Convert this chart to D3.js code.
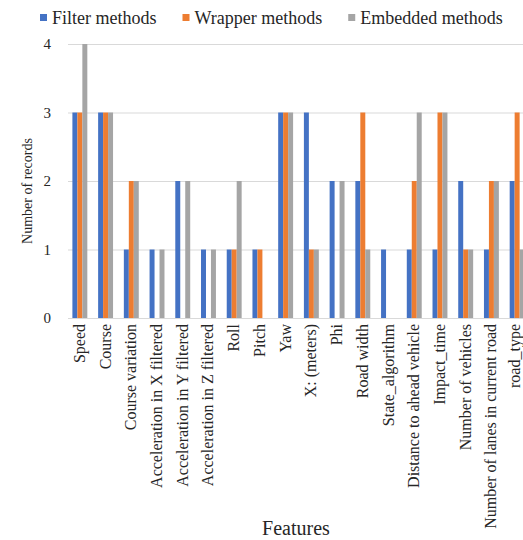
<!DOCTYPE html>
<html>
<head>
<meta charset="utf-8">
<script src="https://cdn.jsdelivr.net/npm/d3@7"></script>
<style>
  html, body { margin: 0; padding: 0; background: #fff; }
  svg { display: block; }
</style>
</head>
<body>
<svg id="chart" width="523" height="540" font-family="'Liberation Serif', 'DejaVu Serif', 'Times New Roman', serif"></svg>
<script>
const categories = ["Speed", "Course", "Course variation", "Acceleration in X filtered",
  "Acceleration in Y filtered", "Acceleration in Z filtered", "Roll", "Pitch", "Yaw",
  "X: (meters)", "Phi", "Road width", "State_algorithm", "Distance to ahead vehicle",
  "Impact_time", "Number of vehicles", "Number of lanes in current road", "road_type"];
const seriesNames = ["Filter methods", "Wrapper methods", "Embedded methods"];
const filterValues   = [3, 3, 1, 1, 2, 1, 1, 1, 3, 3, 2, 2, 1, 1, 1, 2, 1, 2];
const wrapperValues  = [3, 3, 2, 0, 0, 0, 1, 1, 3, 1, 0, 3, 0, 2, 3, 1, 2, 3];
const embeddedValues = [4, 3, 2, 1, 2, 1, 2, 0, 3, 1, 2, 1, 0, 3, 3, 1, 2, 1];
const yTicks = [0, 1, 2, 3, 4];
const colors = ["#4472C4", "#ED7D31", "#A5A5A5"];

const seriesValues = [filterValues, wrapperValues, embeddedValues];
const svg = d3.select("#chart");
const FONT = "'Liberation Serif', 'DejaVu Serif', serif";
const TXT = "#262626";

const x = d3.scaleBand().domain(categories).range([67, 530]).paddingInner(0.42).paddingOuter(0.21);
const xs = d3.scaleBand().domain(seriesNames).range([0, x.bandwidth()]);
const y = d3.scaleLinear().domain([0, 4]).range([318, 44]);

// gridlines
svg.append("g").selectAll("line").data(yTicks).join("line")
  .attr("x1", 68).attr("x2", 523)
  .attr("y1", d => y(d) + 0.5).attr("y2", d => y(d) + 0.5)
  .attr("stroke", "#d9d9d9").attr("stroke-width", 1);

// y tick labels
svg.append("g").selectAll("text").data(yTicks).join("text")
  .attr("x", 51).attr("y", d => y(d) + 5)
  .attr("text-anchor", "end").attr("font-family", FONT).attr("fill", TXT).attr("font-size", 15)
  .text(d => d);

// bars
const rows = [];
categories.forEach((c, i) => seriesNames.forEach((s, j) => rows.push({c, s, j, v: seriesValues[j][i]})));
svg.append("g").selectAll("rect").data(rows.filter(r => r.v > 0)).join("rect")
  .attr("x", d => x(d.c) + xs(d.s))
  .attr("width", xs.bandwidth())
  .attr("y", d => y(d.v))
  .attr("height", d => y(0) - y(d.v))
  .attr("fill", d => colors[d.j]);

// x labels
svg.append("g").selectAll("text").data(categories).join("text")
  .attr("transform", d => `translate(${Math.min(x(d) + x.bandwidth() / 2 + 5, 520)},324) rotate(-90)`)
  .attr("text-anchor", "end").attr("font-family", FONT).attr("fill", TXT).attr("font-size", 16)
  .text(d => d);

// axis titles
svg.append("text")
  .attr("transform", "translate(32,191) rotate(-90)")
  .attr("text-anchor", "middle").attr("font-family", FONT).attr("fill", TXT).attr("font-size", 14)
  .text("Number of records");
svg.append("text")
  .attr("x", 296).attr("y", 535)
  .attr("text-anchor", "middle").attr("font-family", FONT).attr("fill", TXT).attr("font-size", 20)
  .text("Features");

// legend
let lx = 40;
const leg = svg.append("g");
seriesNames.forEach((s, j) => {
  leg.append("rect").attr("x", lx).attr("y", 14).attr("width", 7).attr("height", 7).attr("fill", colors[j]);
  const t = leg.append("text").attr("x", lx + 12).attr("y", 24)
    .attr("font-family", FONT).attr("fill", TXT).attr("font-size", 18).text(s);
  lx += 12 + t.node().getComputedTextLength() + 26;
});
</script>
</body>
</html>
